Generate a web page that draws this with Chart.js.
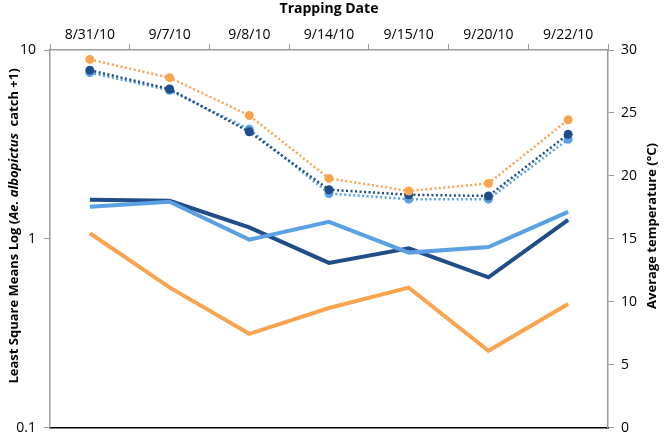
<!DOCTYPE html>
<html>
<head>
<meta charset="utf-8">
<script src="https://cdn.jsdelivr.net/npm/chart.js@4/dist/chart.umd.min.js"></script>
<style>
  html, body { margin: 0; padding: 0; background: #fff; }
  #wrap { width: 664px; height: 444px; }
</style>
</head>
<body>
<div id="wrap"><canvas id="chart" width="664" height="444"></canvas></div>
<script>
// Trapping dates (x axis, shown on top)
const dates = ['8/31/10', '9/7/10', '9/8/10', '9/14/10', '9/15/10', '9/20/10', '9/22/10'];

// Least square means log (Ae. albopictus catch +1), left log axis
const lsmOrange = [1.07, 0.553, 0.314, 0.43, 0.551, 0.255, 0.451];
const lsmLight  = [1.48, 1.57, 0.99, 1.23, 0.845, 0.904, 1.39];
const lsmDark   = [1.61, 1.59, 1.15, 0.745, 0.89, 0.625, 1.26];

// Average temperature (°C), right axis
const tempOrange = [29.25, 27.8, 24.8, 19.8, 18.8, 19.4, 24.45];
const tempDark   = [28.4, 26.9, 23.5, 18.9, 18.5, 18.4, 23.3];
const tempLight  = [28.2, 26.8, 23.7, 18.6, 18.15, 18.15, 22.9];

// tick labels
const logTicks = [0.1, 1, 10];

const ORANGE = '#F9A54F';
const DARK = '#1E4D88';
const LIGHT = '#5BA0E2';
const FONT = 'Open Sans';

// draws the two rotated axis titles (left one has an italic species name)
const axisTitles = {
  id: 'axisTitles',
  afterDraw(chart) {
    const ctx = chart.ctx;
    const midY = 226;
    ctx.save();
    ctx.fillStyle = '#000';
    ctx.textBaseline = 'middle';

    const parts = [
      ['Least Square Means Log (', 'bold 13px "' + FONT + '"'],
      ['Ae. albopictus', 'italic bold 13px "' + FONT + '"'],
      ['  catch +1)', 'bold 13px "' + FONT + '"']
    ];
    let total = 0;
    parts.forEach(p => { ctx.font = p[1]; total += ctx.measureText(p[0]).width; });
    ctx.translate(14, midY);
    ctx.rotate(-Math.PI / 2);
    let x = -total / 2;
    parts.forEach(p => {
      ctx.font = p[1];
      ctx.textAlign = 'left';
      ctx.fillText(p[0], x, 0);
      x += ctx.measureText(p[0]).width;
    });
    ctx.restore();

    ctx.save();
    ctx.fillStyle = '#000';
    ctx.textBaseline = 'middle';
    ctx.textAlign = 'center';
    ctx.font = 'bold 13px "' + FONT + '"';
    ctx.translate(652, midY);
    ctx.rotate(-Math.PI / 2);
    ctx.fillText('Average temperature (°C)', 0, 0);
    ctx.restore();
  }
};

const solid = (label, data, color) => ({
  label: label, data: data, yAxisID: 'y', borderColor: color, backgroundColor: color,
  borderWidth: 4, pointRadius: 0, tension: 0
});
const dotted = (label, data, color) => ({
  label: label, data: data, yAxisID: 'y1', borderColor: color, backgroundColor: color,
  borderWidth: 2.5, borderDash: [2, 2.5], pointRadius: 4.5, pointBorderWidth: 0,
  pointBackgroundColor: color, tension: 0
});

new Chart(document.getElementById('chart'), {
  type: 'line',
  data: {
    labels: dates,
    datasets: [
      solid('LSM orange', lsmOrange, ORANGE),
      solid('LSM light blue', lsmLight, LIGHT),
      solid('LSM dark blue', lsmDark, DARK),
      dotted('Temperature orange', tempOrange, ORANGE),
      dotted('Temperature dark blue', tempDark, DARK),
      dotted('Temperature light blue', tempLight, LIGHT)
    ]
  },
  options: {
    responsive: false,
    animation: false,
    layout: { padding: 0 },
    plugins: { legend: { display: false }, tooltip: { enabled: false } },
    scales: {
      x: {
        type: 'category',
        position: 'top',
        offset: true,
        grid: { drawOnChartArea: false, offset: true, tickLength: 6, color: '#9a9a9a' },
        border: { color: '#9a9a9a', width: 1.5 },
        ticks: { color: '#000', font: { family: FONT, size: 14 }, padding: 1, maxRotation: 0 },
        title: { display: true, text: 'Trapping Date', color: '#000',
                 font: { family: FONT, size: 14, weight: 'bold' }, padding: { top: 1, bottom: 0 } },
        afterFit: s => { s.height = 50; }
      },
      xb: {
        type: 'category',
        position: 'bottom',
        grid: { display: false },
        ticks: { display: false },
        border: { color: '#000', width: 1.5 },
        afterFit: s => { s.height = 12; }
      },
      y: {
        type: 'logarithmic',
        position: 'left',
        min: 0.1,
        max: 10,
        afterBuildTicks: s => { s.ticks = logTicks.map(v => ({ value: v })); },
        ticks: { color: '#000', font: { family: FONT, size: 14 }, padding: 8,
                 callback: v => String(v) },
        grid: { drawOnChartArea: false, tickLength: 6, color: '#9a9a9a' },
        border: { color: '#9a9a9a', width: 1.5 },
        afterFit: s => { s.width = 50; }
      },
      y1: {
        type: 'linear',
        position: 'right',
        min: 0,
        max: 30,
        ticks: { stepSize: 5, color: '#000', font: { family: FONT, size: 14 }, padding: 7 },
        grid: { drawOnChartArea: false, tickLength: 6, color: '#9a9a9a' },
        border: { color: '#9a9a9a', width: 1.5 },
        afterFit: s => { s.width = 56; }
      }
    }
  },
  plugins: [axisTitles]
});
</script>
</body>
</html>
